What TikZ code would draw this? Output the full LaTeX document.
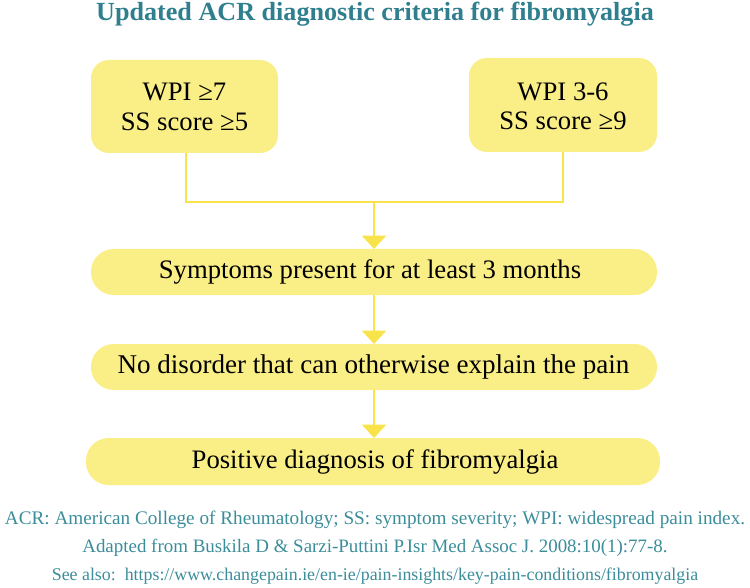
\documentclass[tikz,border=0pt]{standalone}
\usepackage{fontspec}
\setmainfont{Liberation Serif}
\usetikzlibrary{arrows.meta}
\definecolor{boxfill}{HTML}{FAEE86}
\definecolor{linecol}{HTML}{F8E44A}
\definecolor{titlecol}{HTML}{2F7F8E}
\definecolor{footcol}{HTML}{3B8D9A}
\tikzset{
  ybox/.style={fill=boxfill, draw=none, rounded corners=13.5pt, inner sep=0pt},
  pill/.style={fill=boxfill, draw=none, rounded corners=17pt, inner sep=0pt},
  conn/.style={draw=linecol, line width=1.5pt},
  arr/.style={conn, -{Triangle[width=18pt,length=10pt]}},
  boxtext/.style={font=\fontsize{20}{22}\selectfont, align=center, text=black},
  foot/.style={font=\fontsize{14.4}{16}\selectfont, text=footcol},
}
\begin{document}
\begin{tikzpicture}[x=0.75pt,y=-0.75pt]
\useasboundingbox (0,0) rectangle (750,588);
\node[font=\bfseries\fontsize{19.6}{22}\selectfont, text=titlecol] (title) at (375,14) {Updated ACR diagnostic criteria for fibromyalgia};
\path[ybox] (91,60) rectangle (278,153);
\node[boxtext] (b1) at (184.5,107) {WPI ≥7\\SS score ≥5};
\coordinate (b1s) at (186,153);
\path[ybox] (469,58) rectangle (657,152);
\node[boxtext] (b2) at (563,106) {WPI 3-6\\SS score ≥9};
\coordinate (b2s) at (563,152);
\path[pill] (91,249) rectangle (657,295);
\node[boxtext] (b3) at (370,272) {Symptoms present for at least 3 months};
\coordinate (b3n) at (374,249);
\coordinate (b3s) at (374,295);
\path[pill] (91,344) rectangle (657,390);
\node[boxtext, font=\fontsize{20.3}{22}\selectfont] (b4) at (373.5,367) {No disorder that can otherwise explain the pain};
\coordinate (b4n) at (374,344);
\coordinate (b4s) at (374,390);
\path[pill] (86,438) rectangle (660,485);
\node[boxtext] (b5) at (375,461.5) {Positive diagnosis of fibromyalgia};
\coordinate (b5n) at (374,438);
\coordinate (j) at (374,202);
\draw[conn] (b1s) |- (j) -| (b2s);
\draw[arr] (j) -- (b3n);
\draw[arr] (b3s) -- (b4n);
\draw[arr] (b4s) -- (b5n);
\node[foot] (f1) at (375,520) {ACR: American College of Rheumatology; SS: symptom severity; WPI: widespread pain index.};
\node[foot, font=\fontsize{14.2}{16}\selectfont] (f2) at (375,548) {Adapted from Buskila D \& Sarzi-Puttini P.Isr Med Assoc J. 2008:10(1):77-8.};
\node[foot, font=\fontsize{13.4}{16}\selectfont] (f3) at (375,576) {See also:\ \ https://www.changepain.ie/en-ie/pain-insights/key-pain-conditions/fibromyalgia};
\end{tikzpicture}
\end{document}
